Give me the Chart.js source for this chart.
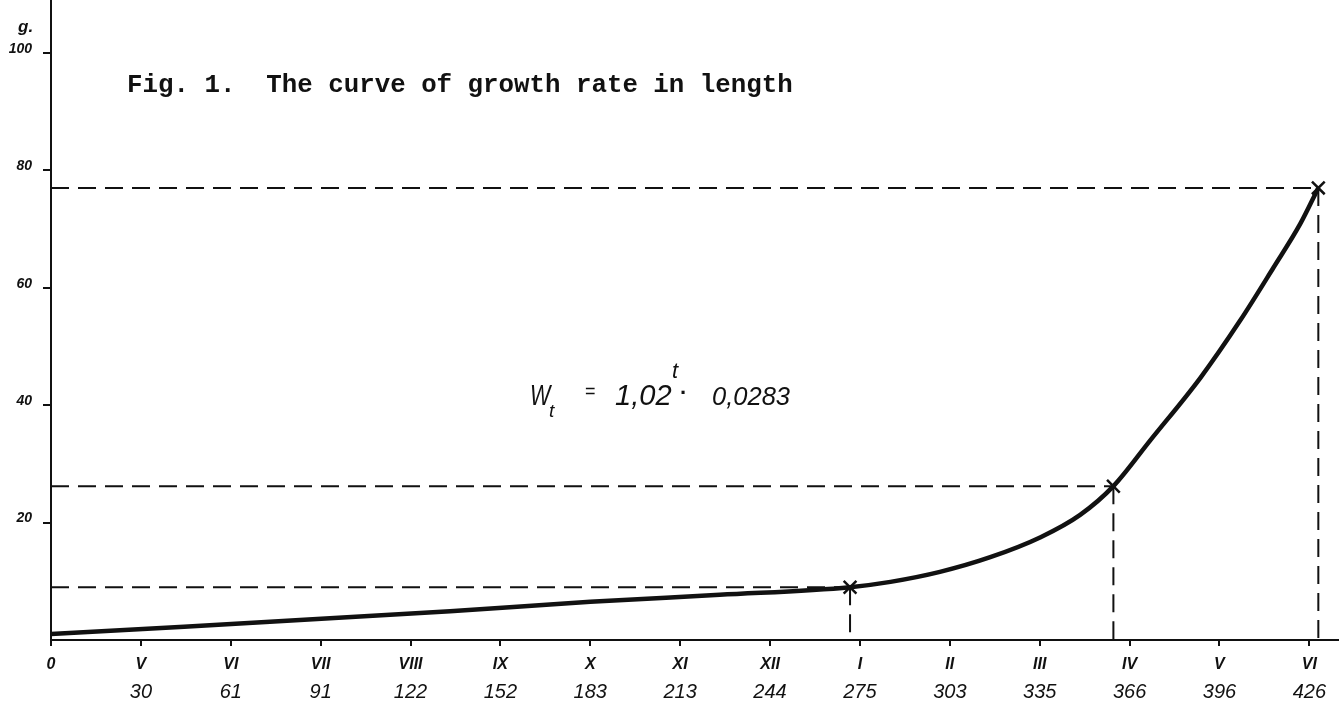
<!DOCTYPE html>
<html>
<head>
<meta charset="utf-8">
<script src="https://cdn.jsdelivr.net/npm/chart.js@4.4.1/dist/chart.umd.min.js"></script>
<style>
  html, body { margin: 0; padding: 0; background: #ffffff; }
  #wrap { position: relative; width: 1339px; height: 704px; }
</style>
</head>
<body>
<div id="wrap"><canvas id="c"></canvas></div>
<script>
// ---- data ----
const monthNumerals = ['0', 'V', 'VI', 'VII', 'VIII', 'IX', 'X', 'XI', 'XII', 'I', 'II', 'III', 'IV', 'V', 'VI'];
const dayLabels = ['', '30', '61', '91', '122', '152', '183', '213', '244', '275', '303', '335', '366', '396', '426'];
const yTickValues = [20, 40, 60, 80, 100];

// curve (x in month-tick units, y in g.)
const curveX = [0, 4.44, 6.0, 7.44, 8.89, 9.34, 9.89, 10.45, 11.01, 11.45, 11.82, 12.23, 12.79, 13.23, 13.60, 13.90, 14.10];
const curveY = [1.0, 4.9, 6.5, 7.7, 9.0, 9.9, 11.6, 14.1, 17.5, 21.3, 26.2, 34.0, 44.7, 54.4, 63.4, 70.9, 77.0];

// marked observations (x in month-tick units, y in g.)
const markX = [8.89, 11.82, 14.10];
const markY = [9.0, 26.2, 77.0];

const titleText = 'Fig. 1.  The curve of growth rate in length';
const yUnit = 'g.';

// ---- chart ----
const INK = '#111111';
const datasets = [];
datasets.push({
  type: 'line',
  data: curveX.map((x, i) => ({ x: x, y: curveY[i] })),
  borderColor: INK, borderWidth: 4.5, pointRadius: 0,
  cubicInterpolationMode: 'monotone', fill: false, order: 1
});
markX.forEach((mx, i) => {
  datasets.push({
    type: 'line',
    data: [{ x: 0, y: markY[i] }, { x: mx, y: markY[i] }],
    borderColor: INK, borderWidth: 2, borderDash: [18, 9], pointRadius: 0, fill: false, order: 3
  });
  datasets.push({
    type: 'line',
    data: [{ x: mx, y: markY[i] }, { x: mx, y: 0 }],
    borderColor: INK, borderWidth: 2, borderDash: [18, 9], pointRadius: 0, fill: false, order: 3
  });
});
datasets.push({
  type: 'line',
  data: markX.map((x, i) => ({ x: x, y: markY[i] })),
  showLine: false, pointStyle: 'crossRot', pointRadius: 9,
  pointBorderWidth: 2.5, pointBorderColor: INK, pointBackgroundColor: INK, order: 0,
  clip: false
});

function noPad(s) { s.paddingLeft = 0; s.paddingRight = 0; s.paddingTop = 0; s.paddingBottom = 0; }

function scaledText(ctx, text, x, y, font, sx) {
  ctx.save();
  ctx.font = font;
  ctx.translate(x, y);
  ctx.scale(sx, 1);
  ctx.fillText(text, 0, 0);
  ctx.restore();
}

const textPlugin = {
  id: 'texts',
  afterDraw(chart) {
    const ctx = chart.ctx;
    ctx.save();
    ctx.fillStyle = INK;
    ctx.textBaseline = 'alphabetic';
    ctx.textAlign = 'left';
    // title
    ctx.font = 'bold 25.8px "Liberation Mono", "DejaVu Sans Mono", monospace';
    ctx.fillText(titleText, 127, 92);
    // unit label
    ctx.font = 'italic bold 17px "Liberation Sans", sans-serif';
    ctx.fillText(yUnit, 18, 32);
    // formula
    scaledText(ctx, 'W', 530, 405, 'italic 30px "Liberation Sans", sans-serif', 0.72);
    scaledText(ctx, 't', 549, 417, 'italic 19px "Liberation Sans", sans-serif', 1);
    scaledText(ctx, '=', 585, 398, '20px "Liberation Sans", sans-serif', 0.9);
    scaledText(ctx, '1,02', 615, 405, 'italic 30px "Liberation Sans", sans-serif', 0.97);
    scaledText(ctx, 't', 672, 378, 'italic 22px "Liberation Sans", sans-serif', 1);
    scaledText(ctx, '·', 680, 400, 'bold 22px "Liberation Sans", sans-serif', 1);
    scaledText(ctx, '0,0283', 712, 405, 'italic 25.5px "Liberation Sans", sans-serif', 1);
    ctx.restore();
  }
};

new Chart(document.getElementById('c'), {
  data: { datasets: datasets },
  options: {
    responsive: true, maintainAspectRatio: false, animation: false,
    layout: { padding: 0, autoPadding: false },
    plugins: { legend: { display: false }, tooltip: { enabled: false }, title: { display: false } },
    scales: {
      x: {
        type: 'linear', position: 'bottom', min: 0, max: 14.33,
        afterBuildTicks: (s) => { s.ticks = monthNumerals.map((_, i) => ({ value: i })); },
        afterFit: (s) => { s.height = 40; noPad(s); },
        grid: { drawOnChartArea: false, drawTicks: true, tickLength: 6, color: INK, lineWidth: 2 },
        border: { display: true, color: INK, width: 2 },
        ticks: {
          autoSkip: false, maxRotation: 0, padding: 9, color: INK,
          font: { family: '"Liberation Sans", sans-serif', size: 16, style: 'italic', weight: 'bold' },
          callback: (v) => monthNumerals[v]
        }
      },
      x2: {
        type: 'linear', position: 'bottom', min: 0, max: 14.33,
        afterBuildTicks: (s) => { s.ticks = dayLabels.map((_, i) => ({ value: i })); },
        afterFit: (s) => { s.height = 24; noPad(s); },
        grid: { display: false, drawTicks: false },
        border: { display: false },
        ticks: {
          autoSkip: false, maxRotation: 0, padding: 0, color: INK,
          font: { family: '"Liberation Sans", sans-serif', size: 20, style: 'italic' },
          callback: (v) => dayLabels[v]
        }
      },
      y: {
        type: 'linear', position: 'left', min: 0, max: 109,
        afterBuildTicks: (s) => { s.ticks = yTickValues.map((v) => ({ value: v })); },
        afterFit: (s) => { s.width = 51; noPad(s); },
        grid: { drawOnChartArea: false, drawTicks: true, tickLength: 8, color: INK, lineWidth: 2 },
        border: { display: true, color: INK, width: 2 },
        ticks: {
          padding: 11, color: INK, labelOffset: -4,
          font: { family: '"Liberation Sans", sans-serif', size: 14, style: 'italic', weight: 'bold' },
          callback: (v) => String(v)
        }
      }
    }
  },
  plugins: [textPlugin]
});
</script>
</body>
</html>
